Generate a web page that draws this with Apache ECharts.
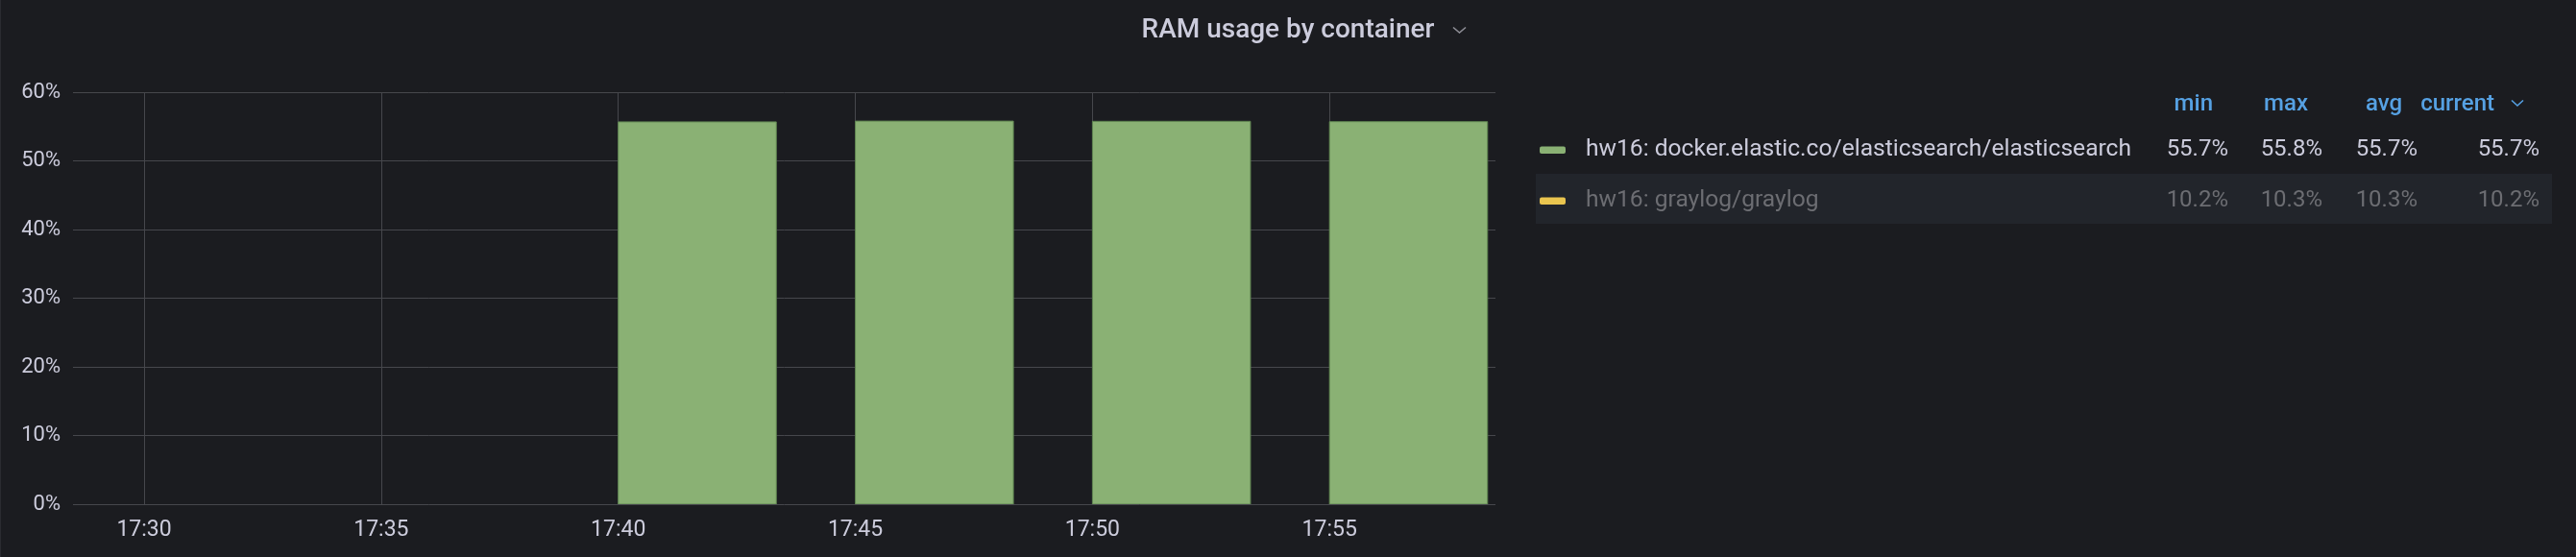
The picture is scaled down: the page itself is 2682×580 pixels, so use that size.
<!DOCTYPE html>
<html><head><meta charset="utf-8">
<script src="https://cdn.jsdelivr.net/npm/echarts@6/dist/echarts.min.js"></script>
<style>html,body{margin:0;padding:0;background:#1b1c20;}#c{width:2682px;height:580px;}</style>
</head><body><div id="c"></div>
<script>
// ---- data ----
const chartTitle = 'RAM usage by container';
const timeRangeStart = '17:28:30';
const timeRangeEnd = '17:58:30';
const barTimes = ['17:40', '17:45', '17:50', '17:55'];
const seriesNames = ['hw16: docker.elastic.co/elasticsearch/elasticsearch', 'hw16: graylog/graylog'];
const elasticValues = [55.68, 55.79, 55.76, 55.71];
const graylogValues = [10.24, 10.30, 10.32, 10.22];
const seriesVisible = [true, false];
const yMin = 0, yMax = 60, yStep = 10;
const statHeaders = ['min', 'max', 'avg', 'current'];

// ---- helpers ----
function toMs(hhmm) {
  const p = hhmm.split(':').map(Number);
  return Date.UTC(2021, 0, 1, p[0], p[1], p[2] || 0);
}
const BAR_DURATION = 200 * 1000; // bar width in time
const colors = ['#8ab174', '#eac54f'];
const allValues = [elasticValues, graylogValues];

function stats(arr) {
  const mn = Math.min.apply(null, arr), mx = Math.max.apply(null, arr);
  const avg = arr.reduce((a, b) => a + b, 0) / arr.length;
  return [mn, mx, avg, arr[arr.length - 1]].map(v => v.toFixed(1) + '%');
}

const FONT = 'Roboto, sans-serif';
const textCol = '#ccccdc';
const dimCol = '#6c6d72';
const headCol = '#56a1e3';

// legend graphics
const g = [];
g.push({ type: 'line', shape: { x1: 0.5, y1: 0, x2: 0.5, y2: 580 }, style: { stroke: '#2a2b30', lineWidth: 1 }, silent: true });
// title chevron
g.push({ type: 'polyline', shape: { points: [[1513, 28.5], [1519.5, 34], [1526, 28.5]] }, style: { stroke: '#8e8e96', lineWidth: 1.6, fill: null } });

const valueRight = [2320, 2418, 2517, 2644];
const headRight = [2304, 2403, 2501, 2597];
const headY = 109;
statHeaders.forEach((h, i) => {
  g.push({ type: 'text', x: headRight[i], y: headY, style: { text: h, fill: headCol, font: '500 24px ' + FONT, textAlign: 'right', textVerticalAlign: 'middle' } });
});
g.push({ type: 'polyline', shape: { points: [[2615, 104.5], [2621, 110], [2627, 104.5]] }, style: { stroke: headCol, lineWidth: 1.6, fill: null } });

const rowY = [156, 209];
// row 2 background
g.push({ type: 'rect', shape: { x: 1599, y: 181, width: 1058, height: 52 }, style: { fill: '#22252b' }, z: -1 });
seriesNames.forEach((name, i) => {
  const col = seriesVisible[i] ? textCol : dimCol;
  g.push({ type: 'rect', shape: { x: 1603, y: rowY[i] - 3.5, width: 27, height: 7.5, r: 2 }, style: { fill: colors[i] } });
  g.push({ type: 'text', x: 1651, y: rowY[i], style: { text: name, fill: col, font: '400 24.6px ' + FONT, textVerticalAlign: 'middle' } });
  const s = stats(allValues[i]);
  s.forEach((v, j) => {
    g.push({ type: 'text', x: valueRight[j], y: rowY[i], style: { text: v, fill: col, font: '400 24px ' + FONT, textAlign: 'right', textVerticalAlign: 'middle' } });
  });
});

const chart = echarts.init(document.getElementById('c'), null, { renderer: 'canvas' });
const series = [];
seriesNames.forEach((name, i) => {
  if (!seriesVisible[i]) return;
  series.push({
    type: 'custom',
    name: name,
    clip: true,
    data: barTimes.map((t, k) => [toMs(t), allValues[i][k]]),
    renderItem: function (params, api) {
      const t = api.value(0), v = api.value(1);
      const p0 = api.coord([t, 0]);
      const p1 = api.coord([t + BAR_DURATION, v]);
      return {
        type: 'rect',
        shape: { x: p0[0], y: p1[1], width: p1[0] - p0[0], height: p0[1] - p1[1] },
        style: { fill: colors[i], stroke: '#5f8550', lineWidth: 1 }
      };
    }
  });
});

chart.setOption({
  backgroundColor: '#1b1c20',
  animation: false,
  useUTC: true,
  title: {
    text: chartTitle, left: 'center', top: 13,
    textStyle: { color: textCol, fontFamily: FONT, fontSize: 28, fontWeight: 500 }
  },
  grid: { left: 76, right: 1125, top: 96, bottom: 55, containLabel: false },
  xAxis: {
    type: 'time',
    min: toMs(timeRangeStart), max: toMs(timeRangeEnd),
    splitNumber: 5,
    axisLine: { show: false }, axisTick: { show: false },
    axisLabel: {
      color: textCol, fontFamily: FONT, fontSize: 23, margin: 16,
      formatter: '{HH}:{mm}', showMinLabel: false, showMaxLabel: false, hideOverlap: false
    },
    splitLine: { show: true, showMinLine: false, showMaxLine: false, lineStyle: { color: '#46474c', width: 1 } }
  },
  yAxis: {
    type: 'value', min: yMin, max: yMax, interval: yStep,
    axisLine: { show: false }, axisTick: { show: false },
    axisLabel: { color: textCol, fontFamily: FONT, fontSize: 22, margin: 13, formatter: '{value}%' },
    splitLine: { show: true, lineStyle: { color: '#46474c', width: 1 } }
  },
  graphic: g,
  series: series
});
</script></body></html>
